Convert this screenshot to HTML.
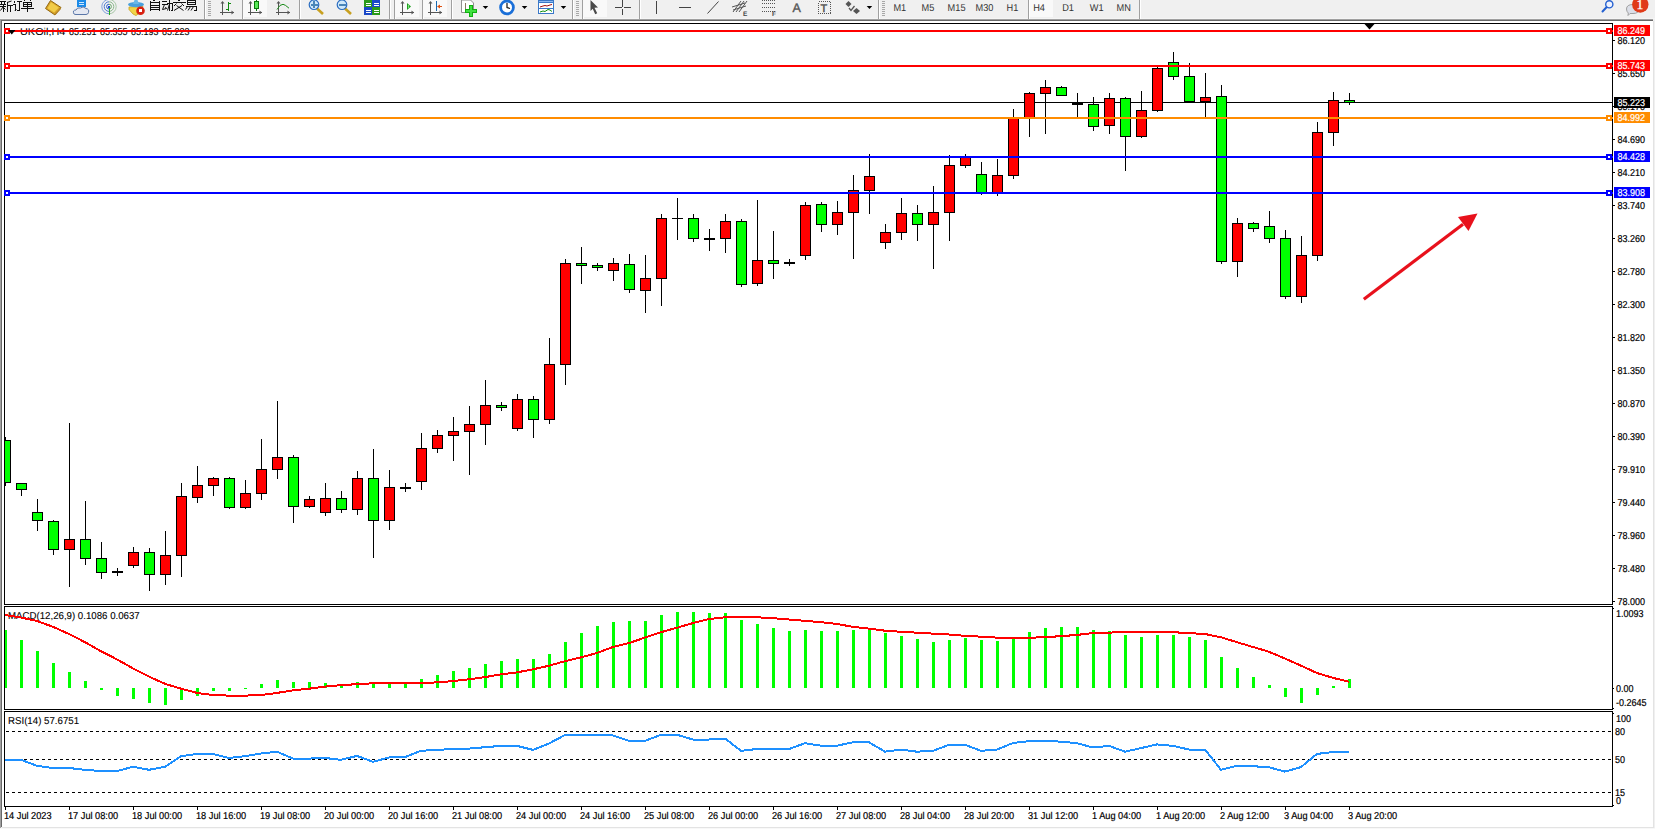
<!DOCTYPE html>
<html><head><meta charset="utf-8"><title>MT4</title>
<style>html,body{margin:0;padding:0;width:1655px;height:829px;overflow:hidden;background:#f0f0f0}svg{display:block;position:absolute;left:0;top:0}text{font-family:"Liberation Sans",sans-serif}</style>
</head><body>
<svg width="1655" height="829" viewBox="0 0 1655 829" shape-rendering="crispEdges" text-rendering="geometricPrecision" font-family="Liberation Sans, sans-serif">
<defs><clipPath id="cm"><rect x="5" y="24" width="1607" height="580"/></clipPath>
<clipPath id="cmacd"><rect x="5" y="607" width="1607" height="102"/></clipPath></defs>
<rect x="0" y="0" width="1655" height="829" fill="#f0f0f0"/>
<rect x="0" y="19" width="1653" height="1" fill="#a0a0a0"/>
<rect x="1" y="20" width="1652" height="1" fill="#696969"/>
<rect x="0" y="19" width="1" height="810" fill="#a0a0a0"/>
<rect x="1" y="20" width="1" height="807" fill="#696969"/>
<rect x="2" y="21" width="1651" height="806" fill="#ffffff"/>
<rect x="1653" y="21" width="1" height="807" fill="#e3e3e3"/>
<rect x="2" y="827" width="1652" height="1" fill="#e3e3e3"/>
<rect x="0" y="828" width="1655" height="1" fill="#f8f8f8"/>
<rect x="0" y="18" width="1655" height="1" fill="#f5f5f5"/>
<rect x="4" y="23" width="1609" height="1" fill="#000"/>
<rect x="4" y="604" width="1609" height="1" fill="#000"/>
<rect x="4" y="23" width="1" height="582" fill="#000"/>
<rect x="1612" y="23" width="1" height="582" fill="#000"/>
<rect x="4" y="606" width="1609" height="1" fill="#000"/>
<rect x="4" y="709" width="1609" height="1" fill="#000"/>
<rect x="4" y="606" width="1" height="104" fill="#000"/>
<rect x="1612" y="606" width="1" height="104" fill="#000"/>
<rect x="4" y="711" width="1609" height="1" fill="#000"/>
<rect x="4" y="806" width="1609" height="1" fill="#000"/>
<rect x="4" y="711" width="1" height="96" fill="#000"/>
<rect x="1612" y="711" width="1" height="96" fill="#000"/>
<text transform="translate(20,35) scale(1.09,1)" font-size="10" fill="#000" >UKOil,H4</text>
<text transform="translate(69,35) scale(0.9,1)" font-size="10" fill="#000" stroke="#000" stroke-width="0.1" >85.251</text>
<text transform="translate(100,35) scale(0.9,1)" font-size="10" fill="#000" stroke="#000" stroke-width="0.1" >85.355</text>
<text transform="translate(131,35) scale(0.9,1)" font-size="10" fill="#000" stroke="#000" stroke-width="0.1" >85.193</text>
<text transform="translate(162,35) scale(0.9,1)" font-size="10" fill="#000" stroke="#000" stroke-width="0.1" >85.223</text>
<text transform="translate(8,619) scale(0.967,1)" font-size="10" fill="#000" stroke="#000" stroke-width="0.1" >MACD(12,26,9) 0.1086 0.0637</text>
<text transform="translate(8,724) scale(0.968,1)" font-size="10" fill="#000" stroke="#000" stroke-width="0.1" >RSI(14) 57.6751</text>
<g clip-path="url(#cm)">
<rect x="5" y="102" width="1607" height="1" fill="#000"/>
<rect x="5" y="437" width="1" height="49" fill="#000"/>
<rect x="0" y="440" width="11" height="43" fill="#000"/>
<rect x="1" y="441" width="9" height="41" fill="#00ff00"/>
<rect x="21" y="483" width="1" height="13" fill="#000"/>
<rect x="16" y="483" width="11" height="7" fill="#000"/>
<rect x="17" y="484" width="9" height="5" fill="#00ff00"/>
<rect x="37" y="499" width="1" height="32" fill="#000"/>
<rect x="32" y="512" width="11" height="9" fill="#000"/>
<rect x="33" y="513" width="9" height="7" fill="#00ff00"/>
<rect x="53" y="520" width="1" height="35" fill="#000"/>
<rect x="48" y="521" width="11" height="29" fill="#000"/>
<rect x="49" y="522" width="9" height="27" fill="#00ff00"/>
<rect x="69" y="423" width="1" height="164" fill="#000"/>
<rect x="64" y="539" width="11" height="11" fill="#000"/>
<rect x="65" y="540" width="9" height="9" fill="#ff0000"/>
<rect x="85" y="501" width="1" height="64" fill="#000"/>
<rect x="80" y="539" width="11" height="20" fill="#000"/>
<rect x="81" y="540" width="9" height="18" fill="#00ff00"/>
<rect x="101" y="542" width="1" height="37" fill="#000"/>
<rect x="96" y="558" width="11" height="15" fill="#000"/>
<rect x="97" y="559" width="9" height="13" fill="#00ff00"/>
<rect x="117" y="568" width="1" height="8" fill="#000"/>
<rect x="112" y="571" width="11" height="2" fill="#000"/>
<rect x="133" y="547" width="1" height="21" fill="#000"/>
<rect x="128" y="552" width="11" height="14" fill="#000"/>
<rect x="129" y="553" width="9" height="12" fill="#ff0000"/>
<rect x="149" y="548" width="1" height="43" fill="#000"/>
<rect x="144" y="552" width="11" height="23" fill="#000"/>
<rect x="145" y="553" width="9" height="21" fill="#00ff00"/>
<rect x="165" y="531" width="1" height="54" fill="#000"/>
<rect x="160" y="555" width="11" height="20" fill="#000"/>
<rect x="161" y="556" width="9" height="18" fill="#ff0000"/>
<rect x="181" y="483" width="1" height="94" fill="#000"/>
<rect x="176" y="496" width="11" height="60" fill="#000"/>
<rect x="177" y="497" width="9" height="58" fill="#ff0000"/>
<rect x="197" y="466" width="1" height="37" fill="#000"/>
<rect x="192" y="485" width="11" height="13" fill="#000"/>
<rect x="193" y="486" width="9" height="11" fill="#ff0000"/>
<rect x="213" y="477" width="1" height="19" fill="#000"/>
<rect x="208" y="478" width="11" height="8" fill="#000"/>
<rect x="209" y="479" width="9" height="6" fill="#ff0000"/>
<rect x="229" y="477" width="1" height="32" fill="#000"/>
<rect x="224" y="478" width="11" height="30" fill="#000"/>
<rect x="225" y="479" width="9" height="28" fill="#00ff00"/>
<rect x="245" y="480" width="1" height="29" fill="#000"/>
<rect x="240" y="493" width="11" height="15" fill="#000"/>
<rect x="241" y="494" width="9" height="13" fill="#ff0000"/>
<rect x="261" y="439" width="1" height="61" fill="#000"/>
<rect x="256" y="469" width="11" height="25" fill="#000"/>
<rect x="257" y="470" width="9" height="23" fill="#ff0000"/>
<rect x="277" y="401" width="1" height="78" fill="#000"/>
<rect x="272" y="457" width="11" height="13" fill="#000"/>
<rect x="273" y="458" width="9" height="11" fill="#ff0000"/>
<rect x="293" y="455" width="1" height="68" fill="#000"/>
<rect x="288" y="457" width="11" height="50" fill="#000"/>
<rect x="289" y="458" width="9" height="48" fill="#00ff00"/>
<rect x="309" y="496" width="1" height="12" fill="#000"/>
<rect x="304" y="499" width="11" height="8" fill="#000"/>
<rect x="305" y="500" width="9" height="6" fill="#ff0000"/>
<rect x="325" y="483" width="1" height="33" fill="#000"/>
<rect x="320" y="498" width="11" height="15" fill="#000"/>
<rect x="321" y="499" width="9" height="13" fill="#ff0000"/>
<rect x="341" y="491" width="1" height="22" fill="#000"/>
<rect x="336" y="498" width="11" height="12" fill="#000"/>
<rect x="337" y="499" width="9" height="10" fill="#00ff00"/>
<rect x="357" y="471" width="1" height="44" fill="#000"/>
<rect x="352" y="478" width="11" height="32" fill="#000"/>
<rect x="353" y="479" width="9" height="30" fill="#ff0000"/>
<rect x="373" y="449" width="1" height="109" fill="#000"/>
<rect x="368" y="478" width="11" height="43" fill="#000"/>
<rect x="369" y="479" width="9" height="41" fill="#00ff00"/>
<rect x="389" y="470" width="1" height="60" fill="#000"/>
<rect x="384" y="487" width="11" height="34" fill="#000"/>
<rect x="385" y="488" width="9" height="32" fill="#ff0000"/>
<rect x="405" y="483" width="1" height="9" fill="#000"/>
<rect x="400" y="487" width="11" height="2" fill="#000"/>
<rect x="421" y="433" width="1" height="57" fill="#000"/>
<rect x="416" y="448" width="11" height="34" fill="#000"/>
<rect x="417" y="449" width="9" height="32" fill="#ff0000"/>
<rect x="437" y="430" width="1" height="23" fill="#000"/>
<rect x="432" y="435" width="11" height="14" fill="#000"/>
<rect x="433" y="436" width="9" height="12" fill="#ff0000"/>
<rect x="453" y="417" width="1" height="44" fill="#000"/>
<rect x="448" y="431" width="11" height="5" fill="#000"/>
<rect x="449" y="432" width="9" height="3" fill="#ff0000"/>
<rect x="469" y="406" width="1" height="69" fill="#000"/>
<rect x="464" y="424" width="11" height="8" fill="#000"/>
<rect x="465" y="425" width="9" height="6" fill="#ff0000"/>
<rect x="485" y="380" width="1" height="65" fill="#000"/>
<rect x="480" y="405" width="11" height="20" fill="#000"/>
<rect x="481" y="406" width="9" height="18" fill="#ff0000"/>
<rect x="501" y="402" width="1" height="9" fill="#000"/>
<rect x="496" y="405" width="11" height="3" fill="#000"/>
<rect x="497" y="406" width="9" height="1" fill="#00ff00"/>
<rect x="517" y="394" width="1" height="37" fill="#000"/>
<rect x="512" y="399" width="11" height="30" fill="#000"/>
<rect x="513" y="400" width="9" height="28" fill="#ff0000"/>
<rect x="533" y="396" width="1" height="42" fill="#000"/>
<rect x="528" y="399" width="11" height="21" fill="#000"/>
<rect x="529" y="400" width="9" height="19" fill="#00ff00"/>
<rect x="549" y="338" width="1" height="86" fill="#000"/>
<rect x="544" y="364" width="11" height="56" fill="#000"/>
<rect x="545" y="365" width="9" height="54" fill="#ff0000"/>
<rect x="565" y="259" width="1" height="126" fill="#000"/>
<rect x="560" y="263" width="11" height="102" fill="#000"/>
<rect x="561" y="264" width="9" height="100" fill="#ff0000"/>
<rect x="581" y="247" width="1" height="37" fill="#000"/>
<rect x="576" y="263" width="11" height="3" fill="#000"/>
<rect x="577" y="264" width="9" height="1" fill="#00ff00"/>
<rect x="597" y="263" width="1" height="8" fill="#000"/>
<rect x="592" y="265" width="11" height="3" fill="#000"/>
<rect x="593" y="266" width="9" height="1" fill="#00ff00"/>
<rect x="613" y="258" width="1" height="23" fill="#000"/>
<rect x="608" y="263" width="11" height="8" fill="#000"/>
<rect x="609" y="264" width="9" height="6" fill="#ff0000"/>
<rect x="629" y="254" width="1" height="39" fill="#000"/>
<rect x="624" y="264" width="11" height="26" fill="#000"/>
<rect x="625" y="265" width="9" height="24" fill="#00ff00"/>
<rect x="645" y="255" width="1" height="58" fill="#000"/>
<rect x="640" y="278" width="11" height="13" fill="#000"/>
<rect x="641" y="279" width="9" height="11" fill="#ff0000"/>
<rect x="661" y="214" width="1" height="92" fill="#000"/>
<rect x="656" y="218" width="11" height="61" fill="#000"/>
<rect x="657" y="219" width="9" height="59" fill="#ff0000"/>
<rect x="677" y="198" width="1" height="42" fill="#000"/>
<rect x="672" y="218" width="11" height="1" fill="#000"/>
<rect x="693" y="214" width="1" height="28" fill="#000"/>
<rect x="688" y="218" width="11" height="21" fill="#000"/>
<rect x="689" y="219" width="9" height="19" fill="#00ff00"/>
<rect x="709" y="229" width="1" height="22" fill="#000"/>
<rect x="704" y="238" width="11" height="2" fill="#000"/>
<rect x="725" y="214" width="1" height="39" fill="#000"/>
<rect x="720" y="221" width="11" height="18" fill="#000"/>
<rect x="721" y="222" width="9" height="16" fill="#ff0000"/>
<rect x="741" y="219" width="1" height="68" fill="#000"/>
<rect x="736" y="221" width="11" height="64" fill="#000"/>
<rect x="737" y="222" width="9" height="62" fill="#00ff00"/>
<rect x="757" y="200" width="1" height="86" fill="#000"/>
<rect x="752" y="260" width="11" height="24" fill="#000"/>
<rect x="753" y="261" width="9" height="22" fill="#ff0000"/>
<rect x="773" y="231" width="1" height="48" fill="#000"/>
<rect x="768" y="260" width="11" height="4" fill="#000"/>
<rect x="769" y="261" width="9" height="2" fill="#00ff00"/>
<rect x="789" y="259" width="1" height="7" fill="#000"/>
<rect x="784" y="262" width="11" height="2" fill="#000"/>
<rect x="805" y="202" width="1" height="58" fill="#000"/>
<rect x="800" y="205" width="11" height="51" fill="#000"/>
<rect x="801" y="206" width="9" height="49" fill="#ff0000"/>
<rect x="821" y="202" width="1" height="30" fill="#000"/>
<rect x="816" y="204" width="11" height="21" fill="#000"/>
<rect x="817" y="205" width="9" height="19" fill="#00ff00"/>
<rect x="837" y="201" width="1" height="34" fill="#000"/>
<rect x="832" y="212" width="11" height="13" fill="#000"/>
<rect x="833" y="213" width="9" height="11" fill="#ff0000"/>
<rect x="853" y="175" width="1" height="84" fill="#000"/>
<rect x="848" y="190" width="11" height="23" fill="#000"/>
<rect x="849" y="191" width="9" height="21" fill="#ff0000"/>
<rect x="869" y="154" width="1" height="60" fill="#000"/>
<rect x="864" y="176" width="11" height="15" fill="#000"/>
<rect x="865" y="177" width="9" height="13" fill="#ff0000"/>
<rect x="885" y="224" width="1" height="25" fill="#000"/>
<rect x="880" y="232" width="11" height="11" fill="#000"/>
<rect x="881" y="233" width="9" height="9" fill="#ff0000"/>
<rect x="901" y="198" width="1" height="42" fill="#000"/>
<rect x="896" y="213" width="11" height="20" fill="#000"/>
<rect x="897" y="214" width="9" height="18" fill="#ff0000"/>
<rect x="917" y="205" width="1" height="36" fill="#000"/>
<rect x="912" y="213" width="11" height="12" fill="#000"/>
<rect x="913" y="214" width="9" height="10" fill="#00ff00"/>
<rect x="933" y="186" width="1" height="83" fill="#000"/>
<rect x="928" y="212" width="11" height="13" fill="#000"/>
<rect x="929" y="213" width="9" height="11" fill="#ff0000"/>
<rect x="949" y="155" width="1" height="86" fill="#000"/>
<rect x="944" y="165" width="11" height="48" fill="#000"/>
<rect x="945" y="166" width="9" height="46" fill="#ff0000"/>
<rect x="965" y="154" width="1" height="14" fill="#000"/>
<rect x="960" y="157" width="11" height="9" fill="#000"/>
<rect x="961" y="158" width="9" height="7" fill="#ff0000"/>
<rect x="981" y="162" width="1" height="33" fill="#000"/>
<rect x="976" y="174" width="11" height="20" fill="#000"/>
<rect x="977" y="175" width="9" height="18" fill="#00ff00"/>
<rect x="997" y="159" width="1" height="37" fill="#000"/>
<rect x="992" y="175" width="11" height="19" fill="#000"/>
<rect x="993" y="176" width="9" height="17" fill="#ff0000"/>
<rect x="1013" y="109" width="1" height="70" fill="#000"/>
<rect x="1008" y="118" width="11" height="58" fill="#000"/>
<rect x="1009" y="119" width="9" height="56" fill="#ff0000"/>
<rect x="1029" y="92" width="1" height="45" fill="#000"/>
<rect x="1024" y="93" width="11" height="25" fill="#000"/>
<rect x="1025" y="94" width="9" height="23" fill="#ff0000"/>
<rect x="1045" y="80" width="1" height="54" fill="#000"/>
<rect x="1040" y="87" width="11" height="7" fill="#000"/>
<rect x="1041" y="88" width="9" height="5" fill="#ff0000"/>
<rect x="1061" y="86" width="1" height="10" fill="#000"/>
<rect x="1056" y="87" width="11" height="9" fill="#000"/>
<rect x="1057" y="88" width="9" height="7" fill="#00ff00"/>
<rect x="1077" y="93" width="1" height="24" fill="#000"/>
<rect x="1072" y="103" width="11" height="2" fill="#000"/>
<rect x="1093" y="97" width="1" height="34" fill="#000"/>
<rect x="1088" y="104" width="11" height="23" fill="#000"/>
<rect x="1089" y="105" width="9" height="21" fill="#00ff00"/>
<rect x="1109" y="93" width="1" height="41" fill="#000"/>
<rect x="1104" y="98" width="11" height="28" fill="#000"/>
<rect x="1105" y="99" width="9" height="26" fill="#ff0000"/>
<rect x="1125" y="97" width="1" height="74" fill="#000"/>
<rect x="1120" y="98" width="11" height="39" fill="#000"/>
<rect x="1121" y="99" width="9" height="37" fill="#00ff00"/>
<rect x="1141" y="91" width="1" height="47" fill="#000"/>
<rect x="1136" y="110" width="11" height="27" fill="#000"/>
<rect x="1137" y="111" width="9" height="25" fill="#ff0000"/>
<rect x="1157" y="67" width="1" height="45" fill="#000"/>
<rect x="1152" y="68" width="11" height="43" fill="#000"/>
<rect x="1153" y="69" width="9" height="41" fill="#ff0000"/>
<rect x="1173" y="52" width="1" height="28" fill="#000"/>
<rect x="1168" y="62" width="11" height="15" fill="#000"/>
<rect x="1169" y="63" width="9" height="13" fill="#00ff00"/>
<rect x="1189" y="63" width="1" height="39" fill="#000"/>
<rect x="1184" y="76" width="11" height="26" fill="#000"/>
<rect x="1185" y="77" width="9" height="24" fill="#00ff00"/>
<rect x="1205" y="73" width="1" height="45" fill="#000"/>
<rect x="1200" y="97" width="11" height="5" fill="#000"/>
<rect x="1201" y="98" width="9" height="3" fill="#ff0000"/>
<rect x="1221" y="85" width="1" height="179" fill="#000"/>
<rect x="1216" y="96" width="11" height="166" fill="#000"/>
<rect x="1217" y="97" width="9" height="164" fill="#00ff00"/>
<rect x="1237" y="218" width="1" height="59" fill="#000"/>
<rect x="1232" y="223" width="11" height="39" fill="#000"/>
<rect x="1233" y="224" width="9" height="37" fill="#ff0000"/>
<rect x="1253" y="222" width="1" height="10" fill="#000"/>
<rect x="1248" y="223" width="11" height="6" fill="#000"/>
<rect x="1249" y="224" width="9" height="4" fill="#00ff00"/>
<rect x="1269" y="211" width="1" height="32" fill="#000"/>
<rect x="1264" y="226" width="11" height="13" fill="#000"/>
<rect x="1265" y="227" width="9" height="11" fill="#00ff00"/>
<rect x="1285" y="230" width="1" height="69" fill="#000"/>
<rect x="1280" y="238" width="11" height="59" fill="#000"/>
<rect x="1281" y="239" width="9" height="57" fill="#00ff00"/>
<rect x="1301" y="236" width="1" height="67" fill="#000"/>
<rect x="1296" y="255" width="11" height="42" fill="#000"/>
<rect x="1297" y="256" width="9" height="40" fill="#ff0000"/>
<rect x="1317" y="122" width="1" height="139" fill="#000"/>
<rect x="1312" y="132" width="11" height="124" fill="#000"/>
<rect x="1313" y="133" width="9" height="122" fill="#ff0000"/>
<rect x="1333" y="92" width="1" height="54" fill="#000"/>
<rect x="1328" y="100" width="11" height="33" fill="#000"/>
<rect x="1329" y="101" width="9" height="31" fill="#ff0000"/>
<rect x="1349" y="93" width="1" height="12" fill="#000"/>
<rect x="1344" y="100" width="11" height="3" fill="#000"/>
<rect x="1345" y="101" width="9" height="1" fill="#00ff00"/>
</g>
<rect x="5" y="30" width="1608" height="2" fill="#ff0000"/>
<rect x="4" y="28" width="6" height="6" fill="#ff0000"/>
<rect x="6" y="30" width="2" height="2" fill="#fff"/>
<rect x="1606" y="28" width="6" height="6" fill="#ff0000"/>
<rect x="1608" y="30" width="2" height="2" fill="#fff"/>
<rect x="5" y="65" width="1608" height="2" fill="#ff0000"/>
<rect x="4" y="63" width="6" height="6" fill="#ff0000"/>
<rect x="6" y="65" width="2" height="2" fill="#fff"/>
<rect x="1606" y="63" width="6" height="6" fill="#ff0000"/>
<rect x="1608" y="65" width="2" height="2" fill="#fff"/>
<rect x="5" y="117" width="1608" height="2" fill="#ff8c00"/>
<rect x="4" y="115" width="6" height="6" fill="#ff8c00"/>
<rect x="6" y="117" width="2" height="2" fill="#fff"/>
<rect x="1606" y="115" width="6" height="6" fill="#ff8c00"/>
<rect x="1608" y="117" width="2" height="2" fill="#fff"/>
<rect x="5" y="156" width="1608" height="2" fill="#0000ff"/>
<rect x="4" y="154" width="6" height="6" fill="#0000ff"/>
<rect x="6" y="156" width="2" height="2" fill="#fff"/>
<rect x="1606" y="154" width="6" height="6" fill="#0000ff"/>
<rect x="1608" y="156" width="2" height="2" fill="#fff"/>
<rect x="5" y="192" width="1608" height="2" fill="#0000ff"/>
<rect x="4" y="190" width="6" height="6" fill="#0000ff"/>
<rect x="6" y="192" width="2" height="2" fill="#fff"/>
<rect x="1606" y="190" width="6" height="6" fill="#0000ff"/>
<rect x="1608" y="192" width="2" height="2" fill="#fff"/>
<g clip-path="url(#cmacd)">
<rect x="4" y="630" width="3" height="58" fill="#00ff00"/>
<rect x="20" y="640" width="3" height="48" fill="#00ff00"/>
<rect x="36" y="651" width="3" height="37" fill="#00ff00"/>
<rect x="52" y="663" width="3" height="25" fill="#00ff00"/>
<rect x="68" y="672" width="3" height="16" fill="#00ff00"/>
<rect x="84" y="681" width="3" height="7" fill="#00ff00"/>
<rect x="100" y="688" width="3" height="2" fill="#00ff00"/>
<rect x="116" y="688" width="3" height="8" fill="#00ff00"/>
<rect x="132" y="688" width="3" height="11" fill="#00ff00"/>
<rect x="148" y="688" width="3" height="15" fill="#00ff00"/>
<rect x="164" y="688" width="3" height="17" fill="#00ff00"/>
<rect x="180" y="688" width="3" height="12" fill="#00ff00"/>
<rect x="196" y="688" width="3" height="8" fill="#00ff00"/>
<rect x="212" y="688" width="3" height="3" fill="#00ff00"/>
<rect x="228" y="688" width="3" height="3" fill="#00ff00"/>
<rect x="244" y="688" width="3" height="1" fill="#00ff00"/>
<rect x="260" y="684" width="3" height="4" fill="#00ff00"/>
<rect x="276" y="680" width="3" height="8" fill="#00ff00"/>
<rect x="292" y="682" width="3" height="6" fill="#00ff00"/>
<rect x="308" y="682" width="3" height="6" fill="#00ff00"/>
<rect x="324" y="683" width="3" height="5" fill="#00ff00"/>
<rect x="340" y="684" width="3" height="4" fill="#00ff00"/>
<rect x="356" y="682" width="3" height="6" fill="#00ff00"/>
<rect x="372" y="683" width="3" height="5" fill="#00ff00"/>
<rect x="388" y="683" width="3" height="5" fill="#00ff00"/>
<rect x="404" y="683" width="3" height="5" fill="#00ff00"/>
<rect x="420" y="679" width="3" height="9" fill="#00ff00"/>
<rect x="436" y="675" width="3" height="13" fill="#00ff00"/>
<rect x="452" y="671" width="3" height="17" fill="#00ff00"/>
<rect x="468" y="668" width="3" height="20" fill="#00ff00"/>
<rect x="484" y="664" width="3" height="24" fill="#00ff00"/>
<rect x="500" y="661" width="3" height="27" fill="#00ff00"/>
<rect x="516" y="659" width="3" height="29" fill="#00ff00"/>
<rect x="532" y="659" width="3" height="29" fill="#00ff00"/>
<rect x="548" y="654" width="3" height="34" fill="#00ff00"/>
<rect x="564" y="642" width="3" height="46" fill="#00ff00"/>
<rect x="580" y="633" width="3" height="55" fill="#00ff00"/>
<rect x="596" y="626" width="3" height="62" fill="#00ff00"/>
<rect x="612" y="622" width="3" height="66" fill="#00ff00"/>
<rect x="628" y="621" width="3" height="67" fill="#00ff00"/>
<rect x="644" y="621" width="3" height="67" fill="#00ff00"/>
<rect x="660" y="615" width="3" height="73" fill="#00ff00"/>
<rect x="676" y="612" width="3" height="76" fill="#00ff00"/>
<rect x="692" y="612" width="3" height="76" fill="#00ff00"/>
<rect x="708" y="613" width="3" height="75" fill="#00ff00"/>
<rect x="724" y="613" width="3" height="75" fill="#00ff00"/>
<rect x="740" y="620" width="3" height="68" fill="#00ff00"/>
<rect x="756" y="624" width="3" height="64" fill="#00ff00"/>
<rect x="772" y="628" width="3" height="60" fill="#00ff00"/>
<rect x="788" y="631" width="3" height="57" fill="#00ff00"/>
<rect x="804" y="630" width="3" height="58" fill="#00ff00"/>
<rect x="820" y="631" width="3" height="57" fill="#00ff00"/>
<rect x="836" y="631" width="3" height="57" fill="#00ff00"/>
<rect x="852" y="630" width="3" height="58" fill="#00ff00"/>
<rect x="868" y="629" width="3" height="59" fill="#00ff00"/>
<rect x="884" y="633" width="3" height="55" fill="#00ff00"/>
<rect x="900" y="636" width="3" height="52" fill="#00ff00"/>
<rect x="916" y="639" width="3" height="49" fill="#00ff00"/>
<rect x="932" y="642" width="3" height="46" fill="#00ff00"/>
<rect x="948" y="640" width="3" height="48" fill="#00ff00"/>
<rect x="964" y="638" width="3" height="50" fill="#00ff00"/>
<rect x="980" y="640" width="3" height="48" fill="#00ff00"/>
<rect x="996" y="641" width="3" height="47" fill="#00ff00"/>
<rect x="1012" y="638" width="3" height="50" fill="#00ff00"/>
<rect x="1028" y="632" width="3" height="56" fill="#00ff00"/>
<rect x="1044" y="628" width="3" height="60" fill="#00ff00"/>
<rect x="1060" y="627" width="3" height="61" fill="#00ff00"/>
<rect x="1076" y="627" width="3" height="61" fill="#00ff00"/>
<rect x="1092" y="630" width="3" height="58" fill="#00ff00"/>
<rect x="1108" y="631" width="3" height="57" fill="#00ff00"/>
<rect x="1124" y="635" width="3" height="53" fill="#00ff00"/>
<rect x="1140" y="637" width="3" height="51" fill="#00ff00"/>
<rect x="1156" y="635" width="3" height="53" fill="#00ff00"/>
<rect x="1172" y="635" width="3" height="53" fill="#00ff00"/>
<rect x="1188" y="637" width="3" height="51" fill="#00ff00"/>
<rect x="1204" y="640" width="3" height="48" fill="#00ff00"/>
<rect x="1220" y="657" width="3" height="31" fill="#00ff00"/>
<rect x="1236" y="668" width="3" height="20" fill="#00ff00"/>
<rect x="1252" y="677" width="3" height="11" fill="#00ff00"/>
<rect x="1268" y="685" width="3" height="3" fill="#00ff00"/>
<rect x="1284" y="688" width="3" height="9" fill="#00ff00"/>
<rect x="1300" y="688" width="3" height="15" fill="#00ff00"/>
<rect x="1316" y="688" width="3" height="7" fill="#00ff00"/>
<rect x="1332" y="686" width="3" height="2" fill="#00ff00"/>
<rect x="1348" y="679" width="3" height="9" fill="#00ff00"/>
<polyline points="5,615 21,617.5 37,621 53,626.8 69,634 85,642.2 101,651.2 117,659.4 133,668.4 149,676.6 165,683.8 181,688.7 197,692.9 213,695.1 229,695.6 245,695.6 261,695.1 277,692.9 293,690.4 309,688.7 325,686.6 341,685.1 357,684.2 373,683.3 389,683 405,683 421,683 437,682.4 453,681.1 469,679.3 485,677.1 501,674.4 517,672.4 533,669.3 549,665.7 565,661.2 581,657.4 597,653 613,647 629,643.1 645,637.6 661,632.2 677,627.7 693,623.1 709,619.1 725,617.3 741,617 757,617.3 773,618.2 789,619.5 805,620.8 821,622.2 837,624 853,626.8 869,628.6 885,630.7 901,631.8 917,632.7 933,633.6 949,634.5 965,635.8 981,636.7 997,637.6 1013,637.8 1029,637.8 1045,637.1 1061,636.2 1077,634.9 1093,633.1 1109,632.7 1125,631.8 1141,631.8 1157,631.8 1173,632.2 1189,633.1 1205,634 1221,637.3 1237,642.2 1253,647 1269,651.8 1285,658.5 1301,665.7 1317,673 1333,677.9 1349,681.7" fill="none" stroke="#ff0000" stroke-width="2" shape-rendering="crispEdges" stroke-linejoin="round"/>
</g>
<line x1="6" y1="731.5" x2="1611" y2="731.5" stroke="#000" stroke-width="1" stroke-dasharray="3 3"/>
<line x1="6" y1="759.5" x2="1611" y2="759.5" stroke="#000" stroke-width="1" stroke-dasharray="3 3"/>
<line x1="6" y1="792.5" x2="1611" y2="792.5" stroke="#000" stroke-width="1" stroke-dasharray="3 3"/>
<polyline points="5,759.8 21,759.8 37,765.8 53,768 69,768 85,769.8 101,771.1 117,771.1 133,766.7 149,769.8 165,766.7 181,756.2 197,753.9 213,753.9 229,758 245,756.2 261,753.5 277,751.7 293,758.6 309,758.6 325,758 341,759.8 357,755.9 373,761.8 389,757.5 405,757.1 421,750.8 437,749.9 453,749 469,748.6 485,747.2 501,745.9 517,745.9 533,749.9 549,743.5 565,735 581,734.8 597,734.8 613,735.4 629,740.8 645,740.8 661,734.8 677,734.8 693,739.5 709,739.5 725,738.5 741,750.8 757,749 773,749 789,749 805,743.2 821,745.7 837,745.7 853,742.3 869,742.3 885,751.7 901,749.5 917,751.7 933,750.8 949,744.8 965,744.8 981,750.8 997,749.5 1013,743 1029,741.2 1045,740.8 1061,741.7 1077,743.2 1093,747.5 1109,745.9 1125,751.7 1141,748.1 1157,744.4 1173,745.9 1189,749.5 1205,749.5 1221,769.8 1237,765.8 1253,766.2 1269,767.3 1285,771.6 1301,767.1 1317,753.9 1333,752.1 1349,751.7" fill="none" stroke="#1e90ff" stroke-width="2" shape-rendering="crispEdges" stroke-linejoin="round"/>
<rect x="1613" y="40" width="2" height="1" fill="#000"/>
<text transform="translate(1617.5,44) scale(0.9,1)" font-size="10" fill="#000" stroke="#000" stroke-width="0.2" >86.120</text>
<rect x="1613" y="73" width="2" height="1" fill="#000"/>
<text transform="translate(1617.5,77) scale(0.9,1)" font-size="10" fill="#000" stroke="#000" stroke-width="0.2" >85.650</text>
<rect x="1613" y="106" width="2" height="1" fill="#000"/>
<text transform="translate(1617.5,110) scale(0.9,1)" font-size="10" fill="#000" stroke="#000" stroke-width="0.2" >85.170</text>
<rect x="1613" y="139" width="2" height="1" fill="#000"/>
<text transform="translate(1617.5,143) scale(0.9,1)" font-size="10" fill="#000" stroke="#000" stroke-width="0.2" >84.690</text>
<rect x="1613" y="172" width="2" height="1" fill="#000"/>
<text transform="translate(1617.5,176) scale(0.9,1)" font-size="10" fill="#000" stroke="#000" stroke-width="0.2" >84.210</text>
<rect x="1613" y="205" width="2" height="1" fill="#000"/>
<text transform="translate(1617.5,209) scale(0.9,1)" font-size="10" fill="#000" stroke="#000" stroke-width="0.2" >83.740</text>
<rect x="1613" y="238" width="2" height="1" fill="#000"/>
<text transform="translate(1617.5,242) scale(0.9,1)" font-size="10" fill="#000" stroke="#000" stroke-width="0.2" >83.260</text>
<rect x="1613" y="271" width="2" height="1" fill="#000"/>
<text transform="translate(1617.5,275) scale(0.9,1)" font-size="10" fill="#000" stroke="#000" stroke-width="0.2" >82.780</text>
<rect x="1613" y="304" width="2" height="1" fill="#000"/>
<text transform="translate(1617.5,308) scale(0.9,1)" font-size="10" fill="#000" stroke="#000" stroke-width="0.2" >82.300</text>
<rect x="1613" y="337" width="2" height="1" fill="#000"/>
<text transform="translate(1617.5,341) scale(0.9,1)" font-size="10" fill="#000" stroke="#000" stroke-width="0.2" >81.820</text>
<rect x="1613" y="370" width="2" height="1" fill="#000"/>
<text transform="translate(1617.5,374) scale(0.9,1)" font-size="10" fill="#000" stroke="#000" stroke-width="0.2" >81.350</text>
<rect x="1613" y="403" width="2" height="1" fill="#000"/>
<text transform="translate(1617.5,407) scale(0.9,1)" font-size="10" fill="#000" stroke="#000" stroke-width="0.2" >80.870</text>
<rect x="1613" y="436" width="2" height="1" fill="#000"/>
<text transform="translate(1617.5,440) scale(0.9,1)" font-size="10" fill="#000" stroke="#000" stroke-width="0.2" >80.390</text>
<rect x="1613" y="469" width="2" height="1" fill="#000"/>
<text transform="translate(1617.5,473) scale(0.9,1)" font-size="10" fill="#000" stroke="#000" stroke-width="0.2" >79.910</text>
<rect x="1613" y="502" width="2" height="1" fill="#000"/>
<text transform="translate(1617.5,506) scale(0.9,1)" font-size="10" fill="#000" stroke="#000" stroke-width="0.2" >79.440</text>
<rect x="1613" y="535" width="2" height="1" fill="#000"/>
<text transform="translate(1617.5,539) scale(0.9,1)" font-size="10" fill="#000" stroke="#000" stroke-width="0.2" >78.960</text>
<rect x="1613" y="568" width="2" height="1" fill="#000"/>
<text transform="translate(1617.5,572) scale(0.9,1)" font-size="10" fill="#000" stroke="#000" stroke-width="0.2" >78.480</text>
<rect x="1613" y="601" width="2" height="1" fill="#000"/>
<text transform="translate(1617.5,605) scale(0.9,1)" font-size="10" fill="#000" stroke="#000" stroke-width="0.2" >78.000</text>
<rect x="1614" y="25" width="36" height="11" fill="#ff0000"/>
<text transform="translate(1617.5,34) scale(0.9,1)" font-size="10" fill="#fff" stroke="#fff" stroke-width="0.2" >86.249</text>
<rect x="1614" y="60" width="36" height="11" fill="#ff0000"/>
<text transform="translate(1617.5,69) scale(0.9,1)" font-size="10" fill="#fff" stroke="#fff" stroke-width="0.2" >85.743</text>
<rect x="1614" y="97" width="36" height="11" fill="#000000"/>
<text transform="translate(1617.5,106) scale(0.9,1)" font-size="10" fill="#fff" stroke="#fff" stroke-width="0.2" >85.223</text>
<rect x="1614" y="112" width="36" height="11" fill="#ff8c00"/>
<text transform="translate(1617.5,121) scale(0.9,1)" font-size="10" fill="#fff" stroke="#fff" stroke-width="0.2" >84.992</text>
<rect x="1614" y="151" width="36" height="11" fill="#0000ff"/>
<text transform="translate(1617.5,160) scale(0.9,1)" font-size="10" fill="#fff" stroke="#fff" stroke-width="0.2" >84.428</text>
<rect x="1614" y="187" width="36" height="11" fill="#0000ff"/>
<text transform="translate(1617.5,196) scale(0.9,1)" font-size="10" fill="#fff" stroke="#fff" stroke-width="0.2" >83.908</text>
<rect x="1613" y="608" width="1" height="1" fill="#000"/>
<rect x="1613" y="688" width="1" height="1" fill="#000"/>
<rect x="1613" y="708" width="1" height="1" fill="#000"/>
<text transform="translate(1616,617) scale(0.9,1)" font-size="10" fill="#000" stroke="#000" stroke-width="0.2" >1.0093</text>
<text transform="translate(1616,692) scale(0.9,1)" font-size="10" fill="#000" stroke="#000" stroke-width="0.2" >0.00</text>
<text transform="translate(1616,706) scale(0.9,1)" font-size="10" fill="#000" stroke="#000" stroke-width="0.2" >-0.2645</text>
<rect x="1613" y="713" width="1" height="1" fill="#000"/>
<rect x="1613" y="805" width="1" height="1" fill="#000"/>
<text transform="translate(1616,722) scale(0.9,1)" font-size="10" fill="#000" stroke="#000" stroke-width="0.2" >100</text>
<text transform="translate(1615,735) scale(0.9,1)" font-size="10" fill="#000" stroke="#000" stroke-width="0.2" >80</text>
<text transform="translate(1615,763) scale(0.9,1)" font-size="10" fill="#000" stroke="#000" stroke-width="0.2" >50</text>
<text transform="translate(1615,796) scale(0.9,1)" font-size="10" fill="#000" stroke="#000" stroke-width="0.2" >15</text>
<text transform="translate(1616,804) scale(0.9,1)" font-size="10" fill="#000" stroke="#000" stroke-width="0.2" >0</text>
<rect x="5" y="807" width="1" height="3" fill="#000"/>
<text transform="translate(4,819) scale(0.92,1)" font-size="10" fill="#000" stroke="#000" stroke-width="0.2" >14 Jul 2023</text>
<rect x="69" y="807" width="1" height="3" fill="#000"/>
<text transform="translate(68,819) scale(0.92,1)" font-size="10" fill="#000" stroke="#000" stroke-width="0.2" >17 Jul 08:00</text>
<rect x="133" y="807" width="1" height="3" fill="#000"/>
<text transform="translate(132,819) scale(0.92,1)" font-size="10" fill="#000" stroke="#000" stroke-width="0.2" >18 Jul 00:00</text>
<rect x="197" y="807" width="1" height="3" fill="#000"/>
<text transform="translate(196,819) scale(0.92,1)" font-size="10" fill="#000" stroke="#000" stroke-width="0.2" >18 Jul 16:00</text>
<rect x="261" y="807" width="1" height="3" fill="#000"/>
<text transform="translate(260,819) scale(0.92,1)" font-size="10" fill="#000" stroke="#000" stroke-width="0.2" >19 Jul 08:00</text>
<rect x="325" y="807" width="1" height="3" fill="#000"/>
<text transform="translate(324,819) scale(0.92,1)" font-size="10" fill="#000" stroke="#000" stroke-width="0.2" >20 Jul 00:00</text>
<rect x="389" y="807" width="1" height="3" fill="#000"/>
<text transform="translate(388,819) scale(0.92,1)" font-size="10" fill="#000" stroke="#000" stroke-width="0.2" >20 Jul 16:00</text>
<rect x="453" y="807" width="1" height="3" fill="#000"/>
<text transform="translate(452,819) scale(0.92,1)" font-size="10" fill="#000" stroke="#000" stroke-width="0.2" >21 Jul 08:00</text>
<rect x="517" y="807" width="1" height="3" fill="#000"/>
<text transform="translate(516,819) scale(0.92,1)" font-size="10" fill="#000" stroke="#000" stroke-width="0.2" >24 Jul 00:00</text>
<rect x="581" y="807" width="1" height="3" fill="#000"/>
<text transform="translate(580,819) scale(0.92,1)" font-size="10" fill="#000" stroke="#000" stroke-width="0.2" >24 Jul 16:00</text>
<rect x="645" y="807" width="1" height="3" fill="#000"/>
<text transform="translate(644,819) scale(0.92,1)" font-size="10" fill="#000" stroke="#000" stroke-width="0.2" >25 Jul 08:00</text>
<rect x="709" y="807" width="1" height="3" fill="#000"/>
<text transform="translate(708,819) scale(0.92,1)" font-size="10" fill="#000" stroke="#000" stroke-width="0.2" >26 Jul 00:00</text>
<rect x="773" y="807" width="1" height="3" fill="#000"/>
<text transform="translate(772,819) scale(0.92,1)" font-size="10" fill="#000" stroke="#000" stroke-width="0.2" >26 Jul 16:00</text>
<rect x="837" y="807" width="1" height="3" fill="#000"/>
<text transform="translate(836,819) scale(0.92,1)" font-size="10" fill="#000" stroke="#000" stroke-width="0.2" >27 Jul 08:00</text>
<rect x="901" y="807" width="1" height="3" fill="#000"/>
<text transform="translate(900,819) scale(0.92,1)" font-size="10" fill="#000" stroke="#000" stroke-width="0.2" >28 Jul 04:00</text>
<rect x="965" y="807" width="1" height="3" fill="#000"/>
<text transform="translate(964,819) scale(0.92,1)" font-size="10" fill="#000" stroke="#000" stroke-width="0.2" >28 Jul 20:00</text>
<rect x="1029" y="807" width="1" height="3" fill="#000"/>
<text transform="translate(1028,819) scale(0.92,1)" font-size="10" fill="#000" stroke="#000" stroke-width="0.2" >31 Jul 12:00</text>
<rect x="1093" y="807" width="1" height="3" fill="#000"/>
<text transform="translate(1092,819) scale(0.92,1)" font-size="10" fill="#000" stroke="#000" stroke-width="0.2" >1 Aug 04:00</text>
<rect x="1157" y="807" width="1" height="3" fill="#000"/>
<text transform="translate(1156,819) scale(0.92,1)" font-size="10" fill="#000" stroke="#000" stroke-width="0.2" >1 Aug 20:00</text>
<rect x="1221" y="807" width="1" height="3" fill="#000"/>
<text transform="translate(1220,819) scale(0.92,1)" font-size="10" fill="#000" stroke="#000" stroke-width="0.2" >2 Aug 12:00</text>
<rect x="1285" y="807" width="1" height="3" fill="#000"/>
<text transform="translate(1284,819) scale(0.92,1)" font-size="10" fill="#000" stroke="#000" stroke-width="0.2" >3 Aug 04:00</text>
<rect x="1349" y="807" width="1" height="3" fill="#000"/>
<text transform="translate(1348,819) scale(0.92,1)" font-size="10" fill="#000" stroke="#000" stroke-width="0.2" >3 Aug 20:00</text>
<path d="M8,30 L15.5,30 L11.75,34.5 Z" fill="#000" shape-rendering="auto"/>
<path d="M1364.5,24 L1374.5,24 L1369.5,29.5 Z" fill="#000" shape-rendering="auto"/>
<g shape-rendering="auto"><line x1="1363.8" y1="299.2" x2="1463" y2="224.3" stroke="#e8111c" stroke-width="3.2"/><path d="M1458,217 L1477.5,213.5 L1468.5,231 Z" fill="#e8111c"/></g>
<g id="tb"><rect x="0" y="1" width="6" height="1" fill="#111"/>
<rect x="0" y="4" width="6" height="1" fill="#111"/>
<rect x="0" y="6" width="6" height="1" fill="#111"/>
<rect x="3" y="4" width="1" height="8" fill="#111"/>
<rect x="1" y="2" width="1" height="2" fill="#111"/>
<rect x="4" y="2" width="1" height="2" fill="#111"/>
<line x1="3" y1="7" x2="0.5" y2="10.5" stroke="#111" stroke-width="1" shape-rendering="auto"/>
<line x1="3.5" y1="7.5" x2="5.5" y2="9.5" stroke="#111" stroke-width="1" shape-rendering="auto"/>
<line x1="7" y1="2.5" x2="11.5" y2="1" stroke="#111" stroke-width="1" shape-rendering="auto"/>
<rect x="7" y="2" width="1" height="10" fill="#111"/>
<rect x="7" y="5" width="6" height="1" fill="#111"/>
<rect x="10" y="5" width="1" height="7" fill="#111"/>
<rect x="14" y="1" width="1" height="2" fill="#111"/>
<rect x="13" y="4" width="3" height="1" fill="#111"/>
<rect x="15" y="4" width="1" height="7" fill="#111"/>
<line x1="15" y1="10.5" x2="16.5" y2="9" stroke="#111" stroke-width="1" shape-rendering="auto"/>
<rect x="17" y="1" width="5" height="1" fill="#111"/>
<rect x="19" y="1" width="1" height="10" fill="#111"/>
<rect x="17" y="10" width="3" height="1" fill="#111"/>
<rect x="24" y="0" width="1" height="1" fill="#111"/>
<rect x="30" y="0" width="1" height="1" fill="#111"/>
<rect x="23" y="2" width="9" height="1" fill="#111"/>
<rect x="23" y="4" width="9" height="1" fill="#111"/>
<rect x="23" y="6" width="9" height="1" fill="#111"/>
<rect x="23" y="2" width="1" height="5" fill="#111"/>
<rect x="31" y="2" width="1" height="5" fill="#111"/>
<rect x="27" y="2" width="1" height="10" fill="#111"/>
<rect x="21" y="8" width="13" height="1" fill="#111"/>
<rect x="153" y="0" width="2" height="1" fill="#111"/>
<rect x="150" y="1" width="1" height="10" fill="#111"/>
<rect x="159" y="1" width="1" height="10" fill="#111"/>
<rect x="150" y="2" width="10" height="1" fill="#111"/>
<rect x="150" y="5" width="10" height="1" fill="#111"/>
<rect x="150" y="7" width="10" height="1" fill="#111"/>
<rect x="150" y="9" width="10" height="1" fill="#111"/>
<rect x="162" y="1" width="5" height="1" fill="#111"/>
<rect x="162" y="4" width="6" height="1" fill="#111"/>
<line x1="164.5" y1="4.5" x2="162.5" y2="9.5" stroke="#111" stroke-width="1" shape-rendering="auto"/>
<line x1="162.5" y1="9.5" x2="166.5" y2="8.5" stroke="#111" stroke-width="1" shape-rendering="auto"/>
<line x1="165.5" y1="7" x2="166.5" y2="9" stroke="#111" stroke-width="1" shape-rendering="auto"/>
<rect x="167" y="3" width="6" height="1" fill="#111"/>
<rect x="169" y="0" width="1" height="11" fill="#111"/>
<line x1="169.5" y1="4" x2="167.5" y2="10.5" stroke="#111" stroke-width="1" shape-rendering="auto"/>
<rect x="172" y="3" width="1" height="8" fill="#111"/>
<rect x="171" y="10" width="2" height="1" fill="#111"/>
<rect x="178" y="0" width="2" height="1" fill="#111"/>
<rect x="173" y="2" width="13" height="1" fill="#111"/>
<line x1="176.5" y1="3.5" x2="174" y2="6" stroke="#111" stroke-width="1" shape-rendering="auto"/>
<line x1="181.5" y1="3.5" x2="184" y2="6" stroke="#111" stroke-width="1" shape-rendering="auto"/>
<line x1="176.5" y1="5.5" x2="183.5" y2="10.5" stroke="#111" stroke-width="1" shape-rendering="auto"/>
<line x1="182" y1="5.5" x2="174" y2="10.5" stroke="#111" stroke-width="1" shape-rendering="auto"/>
<rect x="187" y="0" width="9" height="1" fill="#111"/>
<rect x="187" y="2" width="9" height="1" fill="#111"/>
<rect x="187" y="4" width="9" height="1" fill="#111"/>
<rect x="187" y="0" width="1" height="5" fill="#111"/>
<rect x="195" y="0" width="1" height="5" fill="#111"/>
<rect x="186" y="6" width="11" height="1" fill="#111"/>
<line x1="187.5" y1="6.5" x2="185.5" y2="9.5" stroke="#111" stroke-width="1" shape-rendering="auto"/>
<rect x="196" y="6" width="1" height="5" fill="#111"/>
<rect x="194" y="10" width="3" height="1" fill="#111"/>
<line x1="190.5" y1="6.5" x2="188" y2="10.5" stroke="#111" stroke-width="1" shape-rendering="auto"/>
<line x1="193.5" y1="6.5" x2="191" y2="10.5" stroke="#111" stroke-width="1" shape-rendering="auto"/>
<path d="M45.5,8.5 L50.5,0.5 L61,7.5 L55,15 Z" fill="#d8a428" stroke="#946810" stroke-width="1" shape-rendering="auto"/>
<path d="M47.5,8.3 L51,2.2 L58.8,7.4 L54.2,12.6 Z" fill="#f2cc48" shape-rendering="auto"/>
<path d="M54.5,14 L60.5,7.8 L61,9 L55.5,15 Z" fill="#b88a30" shape-rendering="auto"/>
<rect x="77" y="0" width="9" height="7" fill="#1a8ae8"/>
<rect x="79" y="2" width="5" height="1" fill="#cfe8ff"/>
<rect x="79" y="4" width="5" height="1" fill="#cfe8ff"/>
<path d="M74,14 Q72,10 76,10 Q77,7 80.5,8 Q83,5.5 86,8.5 Q89.5,9 88.5,12.5 Q88,14.5 86,14.5 L76,14.5 Q74.5,14.5 74,14 Z" fill="#e4e8f2" stroke="#5a76a8" stroke-width="1" shape-rendering="auto"/>
<g fill="none" shape-rendering="auto"><path d="M109,-0.6 A7.2,7.2 0 0 0 109,13.8" stroke="#7fa0dc" stroke-width="1"/><path d="M109,-0.6 A7.2,7.2 0 0 1 109,13.8" stroke="#a8c8a8" stroke-width="1"/><path d="M109,1.8 A4.8,4.8 0 0 0 109,11.4" stroke="#4a78d0" stroke-width="1"/><path d="M109,1.8 A4.8,4.8 0 0 1 109,11.4" stroke="#8ab88a" stroke-width="1"/><path d="M109,4.2 A2.4,2.4 0 0 0 109,9" stroke="#2a5cc8" stroke-width="1"/><path d="M109,4.2 A2.4,2.4 0 0 1 109,9" stroke="#6aa86a" stroke-width="1"/></g>
<rect x="108" y="6" width="2" height="2" fill="#2050c0"/>
<rect x="109" y="8" width="1" height="7" fill="#22a822"/>
<path d="M129,7 L143,6.5 L141,12 L136,15.5 L133,14 L129,9.5 Z" fill="#f0d448" stroke="#c8a020" stroke-width="0.8" shape-rendering="auto"/>
<ellipse cx="136" cy="4.6" rx="8" ry="2.6" fill="#4aa0dc" shape-rendering="auto"/>
<path d="M133,4 L134.5,0 L137.5,0 L139,4 Z" fill="#6ab8e8" shape-rendering="auto"/>
<circle cx="140.5" cy="10.8" r="4.3" fill="#d82010" shape-rendering="auto"/>
<rect x="139" y="9" width="3" height="3" fill="#ffffff"/>
<rect x="204" y="0" width="1" height="19" fill="#a0a0a0"/>
<rect x="205" y="0" width="1" height="19" fill="#ffffff"/>
<rect x="208" y="1" width="3" height="1" fill="#a8a8a8"/>
<rect x="208" y="3" width="3" height="1" fill="#a8a8a8"/>
<rect x="208" y="5" width="3" height="1" fill="#a8a8a8"/>
<rect x="208" y="7" width="3" height="1" fill="#a8a8a8"/>
<rect x="208" y="9" width="3" height="1" fill="#a8a8a8"/>
<rect x="208" y="11" width="3" height="1" fill="#a8a8a8"/>
<rect x="208" y="13" width="3" height="1" fill="#a8a8a8"/>
<rect x="208" y="15" width="3" height="1" fill="#a8a8a8"/>
<rect x="222" y="2" width="1" height="13" fill="#555555"/>
<rect x="220" y="12" width="14" height="1" fill="#555555"/>
<path d="M220.5,3.5 L222.5,1 L224.5,3.5 Z" fill="#555555" shape-rendering="auto"/>
<path d="M231.5,10.5 L234,12.5 L231.5,14.5 Z" fill="#555555" shape-rendering="auto"/>
<rect x="228" y="2" width="1" height="9" fill="#108a10"/>
<rect x="228" y="3" width="3" height="1" fill="#108a10"/>
<rect x="226" y="9" width="3" height="1" fill="#108a10"/>
<rect x="242" y="0" width="1" height="19" fill="#a0a0a0"/>
<rect x="243" y="0" width="1" height="19" fill="#ffffff"/>
<rect x="243" y="0" width="24" height="17" fill="#f9f9f9"/>
<rect x="250" y="2" width="1" height="13" fill="#555555"/>
<rect x="248" y="12" width="14" height="1" fill="#555555"/>
<path d="M248.5,3.5 L250.5,1 L252.5,3.5 Z" fill="#555555" shape-rendering="auto"/>
<path d="M259.5,10.5 L262,12.5 L259.5,14.5 Z" fill="#555555" shape-rendering="auto"/>
<rect x="256" y="0" width="1" height="11" fill="#0a7a0a"/>
<rect x="254" y="1" width="5" height="8" fill="#0a7a0a"/>
<rect x="255" y="2" width="3" height="6" fill="#58e858"/>
<rect x="278" y="2" width="1" height="13" fill="#555555"/>
<rect x="276" y="12" width="14" height="1" fill="#555555"/>
<path d="M276.5,3.5 L278.5,1 L280.5,3.5 Z" fill="#555555" shape-rendering="auto"/>
<path d="M287.5,10.5 L290,12.5 L287.5,14.5 Z" fill="#555555" shape-rendering="auto"/>
<path d="M277,9.5 Q280,4 283,4.3 Q285,4.5 289,8.2" fill="none" stroke="#1a8a1a" stroke-width="1" shape-rendering="auto"/>
<rect x="299" y="0" width="1" height="19" fill="#a0a0a0"/>
<rect x="300" y="0" width="1" height="19" fill="#ffffff"/>
<line x1="317" y1="8.5" x2="323" y2="14" stroke="#c8a020" stroke-width="2.6" shape-rendering="auto"/>
<circle cx="314" cy="4.7" r="4.8" fill="#cfe8fa" stroke="#2a6cc0" stroke-width="1.2" shape-rendering="auto"/>
<rect x="311" y="4" width="7" height="2" fill="#4a86b8"/>
<rect x="313" y="1" width="2" height="7" fill="#4a86b8"/>
<line x1="345" y1="8.5" x2="351" y2="14" stroke="#c8a020" stroke-width="2.6" shape-rendering="auto"/>
<circle cx="342" cy="4.7" r="4.8" fill="#cfe8fa" stroke="#2a6cc0" stroke-width="1.2" shape-rendering="auto"/>
<rect x="339" y="4" width="7" height="2" fill="#4a86b8"/>
<rect x="364" y="0" width="8" height="7" fill="#2a9a1a"/>
<rect x="372" y="0" width="8" height="7" fill="#1a48c8"/>
<rect x="364" y="7" width="8" height="8" fill="#1a48c8"/>
<rect x="372" y="7" width="8" height="8" fill="#2a9a1a"/>
<rect x="366" y="3" width="5" height="1" fill="#ffffff"/>
<rect x="366" y="5" width="5" height="1" fill="#ffffff"/>
<rect x="374" y="3" width="5" height="1" fill="#ffffff"/>
<rect x="374" y="5" width="5" height="1" fill="#ffffff"/>
<rect x="366" y="10" width="5" height="1" fill="#ffffff"/>
<rect x="366" y="12" width="5" height="1" fill="#ffffff"/>
<rect x="374" y="10" width="5" height="1" fill="#ffffff"/>
<rect x="374" y="12" width="5" height="1" fill="#ffffff"/>
<rect x="389" y="0" width="1" height="19" fill="#a0a0a0"/>
<rect x="390" y="0" width="1" height="19" fill="#ffffff"/>
<rect x="394" y="0" width="1" height="19" fill="#a0a0a0"/>
<rect x="395" y="0" width="1" height="19" fill="#ffffff"/>
<rect x="395" y="0" width="24" height="17" fill="#f9f9f9"/>
<rect x="402" y="2" width="1" height="13" fill="#555555"/>
<rect x="400" y="12" width="14" height="1" fill="#555555"/>
<path d="M400.5,3.5 L402.5,1 L404.5,3.5 Z" fill="#555555" shape-rendering="auto"/>
<path d="M411.5,10.5 L414,12.5 L411.5,14.5 Z" fill="#555555" shape-rendering="auto"/>
<path d="M407,3 L411,6.5 L407,10 Z" fill="#20a020" shape-rendering="auto"/>
<rect x="408" y="5" width="1" height="3" fill="#7ae87a"/>
<rect x="422" y="0" width="1" height="19" fill="#a0a0a0"/>
<rect x="423" y="0" width="1" height="19" fill="#ffffff"/>
<rect x="423" y="0" width="24" height="17" fill="#f9f9f9"/>
<rect x="430" y="2" width="1" height="13" fill="#555555"/>
<rect x="428" y="12" width="14" height="1" fill="#555555"/>
<path d="M428.5,3.5 L430.5,1 L432.5,3.5 Z" fill="#555555" shape-rendering="auto"/>
<path d="M439.5,10.5 L442,12.5 L439.5,14.5 Z" fill="#555555" shape-rendering="auto"/>
<rect x="436" y="1" width="1" height="10" fill="#1a6ab0"/>
<path d="M437,6.5 L440,4.5 L440,6 L442,6 L442,7 L440,7 L440,8.5 Z" fill="#e05010" shape-rendering="auto"/>
<rect x="451" y="0" width="1" height="19" fill="#a0a0a0"/>
<rect x="452" y="0" width="1" height="19" fill="#ffffff"/>
<path d="M461.5,0 L470.5,0 L473.5,3 L473.5,12.5 L461.5,12.5 Z" fill="#ffffff" stroke="#909090" stroke-width="1" shape-rendering="auto"/>
<rect x="465" y="3" width="1" height="7" fill="#8a7a60"/>
<rect x="469" y="5" width="4" height="12" fill="#10b010"/>
<rect x="465" y="9" width="12" height="4" fill="#10b010"/>
<rect x="470" y="6" width="2" height="10" fill="#40e040"/>
<rect x="466" y="10" width="10" height="2" fill="#40e040"/>
<path d="M482.7,6 L488.2,6 L485.45,9 Z" fill="#000" shape-rendering="auto"/>
<circle cx="507" cy="7.4" r="6.4" fill="#ffffff" stroke="#1a6fd8" stroke-width="2.8" shape-rendering="auto"/>
<path d="M507,3 L507,7.5 L510,8.5" fill="none" stroke="#111" stroke-width="1.2" shape-rendering="auto"/>
<path d="M521.8,6 L527.3,6 L524.55,9 Z" fill="#000" shape-rendering="auto"/>
<rect x="538" y="0" width="16" height="14" fill="#3a78c8"/>
<rect x="539" y="3" width="14" height="5" fill="#ffffff"/>
<rect x="539" y="9" width="14" height="4" fill="#ffffff"/>
<rect x="539" y="1" width="14" height="1" fill="#8ab8f0"/>
<polyline points="540,7 543,6 545,5.5 547,6 550,5 552,4.5" fill="none" stroke="#a01010" stroke-width="1" shape-rendering="auto"/>
<polyline points="540,12 543,11 545,11.5 548,9.5 550,10 552,11.5" fill="none" stroke="#109010" stroke-width="1" shape-rendering="auto"/>
<path d="M560.7,6 L566.2,6 L563.45,9 Z" fill="#000" shape-rendering="auto"/>
<rect x="572" y="0" width="1" height="19" fill="#a0a0a0"/>
<rect x="573" y="0" width="1" height="19" fill="#ffffff"/>
<rect x="576" y="1" width="3" height="1" fill="#a8a8a8"/>
<rect x="576" y="3" width="3" height="1" fill="#a8a8a8"/>
<rect x="576" y="5" width="3" height="1" fill="#a8a8a8"/>
<rect x="576" y="7" width="3" height="1" fill="#a8a8a8"/>
<rect x="576" y="9" width="3" height="1" fill="#a8a8a8"/>
<rect x="576" y="11" width="3" height="1" fill="#a8a8a8"/>
<rect x="576" y="13" width="3" height="1" fill="#a8a8a8"/>
<rect x="576" y="15" width="3" height="1" fill="#a8a8a8"/>
<rect x="582" y="0" width="1" height="19" fill="#a0a0a0"/>
<rect x="583" y="0" width="1" height="19" fill="#ffffff"/>
<rect x="583" y="0" width="24" height="17" fill="#f9f9f9"/>
<path d="M590.5,0 L598,7.5 L594.5,7.8 L597.2,13.3 L595.2,14.2 L592.7,8.8 L590.5,11 Z" fill="#4a4a4a" shape-rendering="auto"/>
<rect x="615" y="7" width="7" height="1" fill="#444444"/>
<rect x="624" y="7" width="7" height="1" fill="#444444"/>
<rect x="622" y="0" width="1" height="7" fill="#444444"/>
<rect x="622" y="9" width="1" height="6" fill="#444444"/>
<rect x="639" y="0" width="1" height="19" fill="#a0a0a0"/>
<rect x="640" y="0" width="1" height="19" fill="#ffffff"/>
<rect x="656" y="1" width="1" height="13" fill="#444444"/>
<rect x="679" y="7" width="12" height="1" fill="#444444"/>
<line x1="707.5" y1="13.5" x2="718.5" y2="1.5" stroke="#444444" stroke-width="1" shape-rendering="auto"/>
<line x1="733" y1="12" x2="741" y2="1" stroke="#555" stroke-width="1" shape-rendering="auto"/>
<line x1="736" y1="12" x2="744" y2="1" stroke="#555" stroke-width="1" shape-rendering="auto"/>
<line x1="739" y1="12" x2="747" y2="1" stroke="#555" stroke-width="1" shape-rendering="auto"/>
<line x1="732" y1="7" x2="745" y2="3" stroke="#555" stroke-width="1" shape-rendering="auto"/>
<line x1="733" y1="10" x2="746" y2="6" stroke="#555" stroke-width="1" shape-rendering="auto"/>
<text x="743" y="16" font-size="6.5" font-weight="bold" fill="#444">E</text>
<line x1="762" y1="0.5" x2="775.5" y2="0.5" stroke="#555" stroke-width="1" stroke-dasharray="1 1"/>
<line x1="762" y1="3.5" x2="775.5" y2="3.5" stroke="#555" stroke-width="1" stroke-dasharray="1 1"/>
<line x1="762" y1="7.5" x2="775.5" y2="7.5" stroke="#555" stroke-width="1" stroke-dasharray="1 1"/>
<line x1="762" y1="11.5" x2="775.5" y2="11.5" stroke="#555" stroke-width="1" stroke-dasharray="1 1"/>
<text x="772" y="16" font-size="6.5" font-weight="bold" fill="#444">F</text>
<text x="792.5" y="12.2" font-size="12.5" fill="#555" stroke="#555" stroke-width="0.4">A</text>
<rect x="818.5" y="1.5" width="12" height="12" fill="none" stroke="#555" stroke-dasharray="1 1"/>
<text x="820.6" y="11.8" font-size="11" fill="#555" stroke="#555" stroke-width="0.5">T</text>
<path d="M848.5,1 L851.5,4 L848.5,7 L845.5,4 Z" fill="#555" shape-rendering="auto"/>
<path d="M856.5,8 L860,11 L856.5,14 L853,11 Z" fill="#555" shape-rendering="auto"/>
<polyline points="849,8 851,10.5 854.5,6" fill="none" stroke="#555" stroke-width="1.3" shape-rendering="auto"/>
<path d="M866.7,6 L872.2,6 L869.45,9 Z" fill="#000" shape-rendering="auto"/>
<rect x="878" y="0" width="1" height="19" fill="#a0a0a0"/>
<rect x="879" y="0" width="1" height="19" fill="#ffffff"/>
<rect x="882" y="1" width="3" height="1" fill="#a8a8a8"/>
<rect x="882" y="3" width="3" height="1" fill="#a8a8a8"/>
<rect x="882" y="5" width="3" height="1" fill="#a8a8a8"/>
<rect x="882" y="7" width="3" height="1" fill="#a8a8a8"/>
<rect x="882" y="9" width="3" height="1" fill="#a8a8a8"/>
<rect x="882" y="11" width="3" height="1" fill="#a8a8a8"/>
<rect x="882" y="13" width="3" height="1" fill="#a8a8a8"/>
<rect x="882" y="15" width="3" height="1" fill="#a8a8a8"/>
<rect x="1028" y="0" width="1" height="19" fill="#a0a0a0"/>
<rect x="1029" y="0" width="1" height="19" fill="#ffffff"/>
<rect x="1030" y="0" width="23" height="17" fill="#f9f9f9"/>
<text transform="translate(893.4,11) scale(0.92,1)" font-size="10" fill="#333">M1</text>
<text transform="translate(921.6,11) scale(0.92,1)" font-size="10" fill="#333">M5</text>
<text transform="translate(947.6,11) scale(0.92,1)" font-size="10" fill="#333">M15</text>
<text transform="translate(975.5,11) scale(0.92,1)" font-size="10" fill="#333">M30</text>
<text transform="translate(1006.5,11) scale(0.92,1)" font-size="10" fill="#333">H1</text>
<text transform="translate(1033.2,11) scale(0.92,1)" font-size="10" fill="#333">H4</text>
<text transform="translate(1062.2,11) scale(0.92,1)" font-size="10" fill="#333">D1</text>
<text transform="translate(1089.7,11) scale(0.92,1)" font-size="10" fill="#333">W1</text>
<text transform="translate(1116.5,11) scale(0.92,1)" font-size="10" fill="#333">MN</text>
<rect x="1139" y="0" width="1" height="19" fill="#a0a0a0"/>
<rect x="1140" y="0" width="1" height="19" fill="#ffffff"/>
<circle cx="1609.3" cy="4.3" r="3.6" fill="#eef2ff" stroke="#2460d0" stroke-width="1.4" shape-rendering="auto"/>
<line x1="1606.5" y1="7.2" x2="1602.5" y2="11.5" stroke="#2460d0" stroke-width="2" stroke-linecap="round" shape-rendering="auto"/>
<path d="M1626.5,9 Q1626.5,4.5 1633,4.5 Q1639,4.5 1639,9 Q1639,13.5 1633,13.5 L1630,13.5 L1628,15.5 L1628.3,13 Q1626.5,11.5 1626.5,9 Z" fill="#dcdfe8" stroke="#a0a0a0" stroke-width="1" shape-rendering="auto"/>
<circle cx="1640.3" cy="4.5" r="8.2" fill="#e03a18" shape-rendering="auto"/>
<text x="1636.4" y="8.8" font-size="13.5" style="font-family:&quot;Liberation Serif&quot;,serif" fill="#fff" stroke="#fff" stroke-width="0.3">1</text></g>
</svg>
</body></html>
